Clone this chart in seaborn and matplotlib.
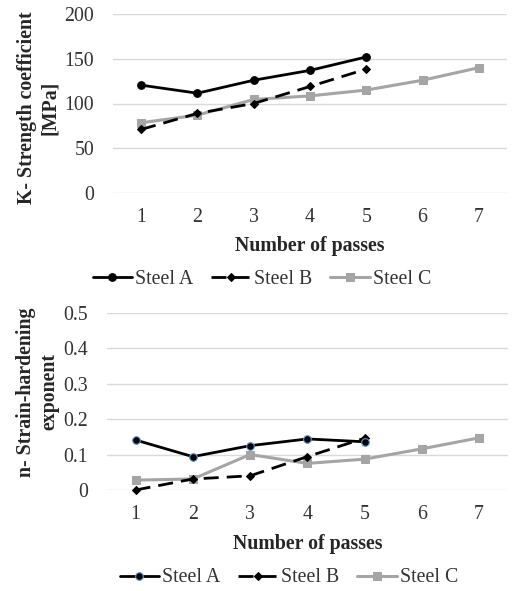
import matplotlib
matplotlib.use("Agg")
import matplotlib.pyplot as plt
import seaborn as sns
import pandas as pd

passes_ab = [1, 2, 3, 4, 5]
passes_c = [1, 2, 3, 4, 5, 6, 7]

k_steel_a = [120.5, 111.5, 126, 137, 152]
k_steel_b = [71, 89, 100, 119, 138.5]
k_steel_c = [78.5, 87, 104.5, 108.5, 115, 126, 140]

n_steel_a = [0.141, 0.094, 0.125, 0.144, 0.136]
n_steel_b = [0.0, 0.031, 0.040, 0.094, 0.146]
n_steel_c = [0.028, 0.031, 0.100, 0.075, 0.087, 0.116, 0.147]

k_ticks = [0, 50, 100, 150, 200]
n_ticks = [0, 0.1, 0.2, 0.3, 0.4, 0.5]
n_tick_labels = ["0", "0.1", "0.2", "0.3", "0.4", "0.5"]
x_ticks = [1, 2, 3, 4, 5, 6, 7]

sns.set_theme(style="white")
plt.rcParams["font.family"] = ["Liberation Serif", "DejaVu Serif"]

FS = 14.3
fig = plt.figure(figsize=(5.15, 5.91), dpi=100)
ax1 = fig.add_axes([113/515, 1-193/591, (507-113)/515, (193-14)/591])
ax2 = fig.add_axes([107/515, 1-490/591, (507.6-107)/515, (490-312.7)/591])

grid_c = "#d9d9d9"
tick_c = "#333333"


def draw(ax, a, b, c, a_edge, ypad, xpad):
    da = pd.DataFrame({"x": passes_ab, "y": a})
    db = pd.DataFrame({"x": passes_ab, "y": b})
    dc = pd.DataFrame({"x": passes_c, "y": c})
    sns.lineplot(data=da, x="x", y="y", ax=ax, color="black", lw=2.0,
                 marker="o", markersize=5.5, markeredgecolor=a_edge,
                 markeredgewidth=0.8, label="Steel A", zorder=4)
    sns.lineplot(data=db, x="x", y="y", ax=ax, color="black", lw=2.0,
                 linestyle=(0, (5.4, 2.9)), marker="D", markersize=4.5,
                 markeredgecolor="black", label="Steel B", zorder=3)
    sns.lineplot(data=dc, x="x", y="y", ax=ax, color="#a5a5a5", lw=2.2,
                 marker="s", markersize=6, markeredgecolor="#a5a5a5",
                 label="Steel C", zorder=2)
    ax.set_xlim(0.5, 7.5)
    ax.set_xticks(x_ticks)
    ax.set_xlabel("")
    ax.set_ylabel("")
    for s in ax.spines.values():
        s.set_visible(False)
    ax.grid(axis="y", color=grid_c, lw=1.0)
    ax.set_axisbelow(True)
    ax.tick_params(axis="y", length=0, labelsize=FS, colors=tick_c, pad=ypad)
    ax.tick_params(axis="x", length=0, labelsize=FS, colors=tick_c, pad=xpad)
    ax.legend_.remove()
    for line in ax.lines:
        line.set_clip_on(False)


draw(ax1, k_steel_a, k_steel_b, k_steel_c, "black", 13.5, 11)
ax1.set_ylim(0, 200)
ax1.set_yticks(k_ticks)

draw(ax2, n_steel_a, n_steel_b, n_steel_c, "#5b9bd5", 13.5, 11)
ax2.set_ylim(0, 0.5)
ax2.set_yticks(n_ticks)
ax2.set_yticklabels(n_tick_labels)

for ax in (ax1, ax2):
    for t in ax.yaxis.get_major_ticks():
        t.set_pad(13.5)

fig.text(310/515, 1-245.5/591, "Number of passes", ha="center", va="center",
         fontsize=FS, fontweight="bold")
fig.text(308/515, 1-544/591, "Number of passes", ha="center", va="center",
         fontsize=FS, fontweight="bold")

fig.text(38.5/515, 1-108/591, "K- Strength coefficient\n[MPa]", ha="center",
         va="center", rotation=90, fontsize=FS, fontweight="bold",
         linespacing=1.25)
fig.text(37.5/515, 1-392/591, "n- Strain-hardening\nexponent", ha="center",
         va="center", rotation=90, fontsize=FS, fontweight="bold",
         linespacing=1.2)

h, l = ax1.get_legend_handles_labels()
fig.legend(h, l, loc="center", bbox_to_anchor=(262/515, 1-279/591), ncol=3,
           frameon=False, fontsize=FS, handlelength=2.0, handletextpad=0.15,
           columnspacing=0.9, labelcolor=tick_c)
h, l = ax2.get_legend_handles_labels()
fig.legend(h, l, loc="center", bbox_to_anchor=(289/515, 1-578/591), ncol=3,
           frameon=False, fontsize=FS, handlelength=2.0, handletextpad=0.15,
           columnspacing=0.9, labelcolor=tick_c)

fig.savefig("out.png", dpi=100)
